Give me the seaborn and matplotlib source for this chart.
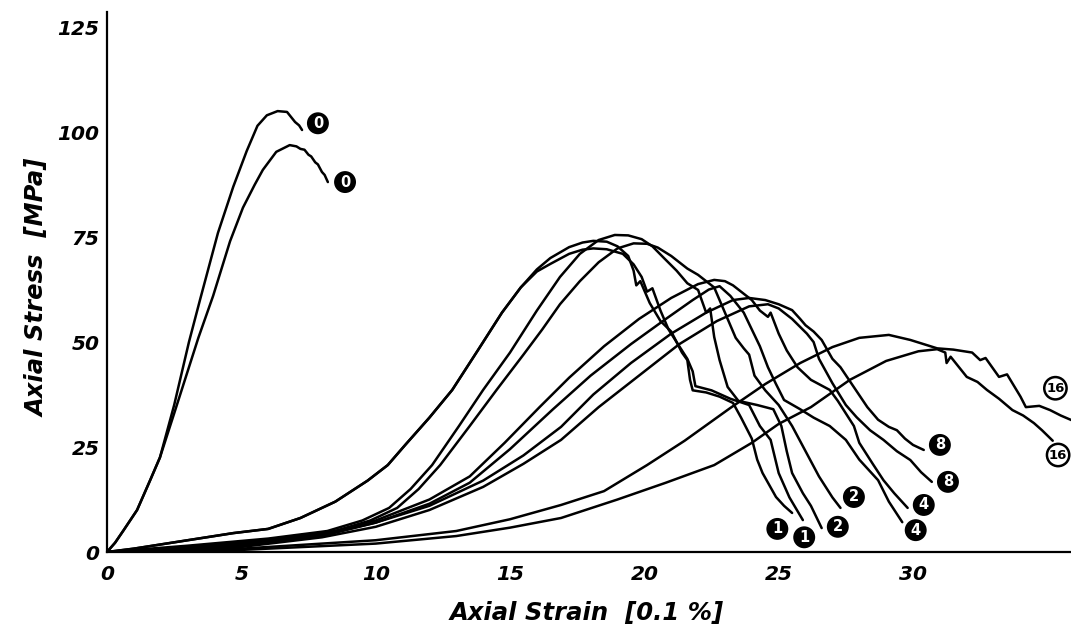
import matplotlib
matplotlib.use("Agg")
import matplotlib.pyplot as plt
import numpy as np
import pandas as pd
import seaborn as sns

# ---------------- data ----------------
C0A_X = [0, 0.3, 0.62, 1.12, 1.6, 1.97, 2.5, 3.05, 3.46, 4.13, 4.7, 5.2, 5.6, 5.95, 6.35, 6.7, 6.85, 7.0, 7.15, 7.26]
C0A_Y = [0, 2.2, 5.2, 10, 17, 22.5, 35, 50, 60, 76, 87, 95.5, 101.5, 104, 105, 104.8, 103.6, 102.4, 101.6, 100.5]

C0B_X = [0, 0.3, 0.62, 1.12, 1.6, 1.97, 2.5, 3.0, 3.4, 3.95, 4.58, 5.06, 5.5, 5.8, 6.3, 6.8, 7.05, 7.2, 7.35, 7.5, 7.6, 7.75, 7.85, 8.0, 8.1, 8.22]
C0B_Y = [0, 2.2, 5.2, 10, 17, 22.5, 33, 43, 51, 61, 74, 82, 87.5, 91, 95.3, 96.9, 96.6, 96.0, 95.8, 94.6, 94.2, 92.8, 92.3, 90.5, 89.8, 88.1]

C1A_X = [0, 1, 2.5, 4.7, 6.0, 7.2, 8.5, 9.7, 10.45, 11.1, 12.0, 12.85, 13.8, 14.7, 15.4, 16.0, 16.5, 17.2, 17.7, 18.1, 18.6, 19.0, 19.4, 19.6, 19.7, 19.85, 20.2, 20.6, 21.0, 21.2, 21.4, 21.6, 21.7, 21.8, 22.3, 22.8, 23.3, 23.6, 24.0, 24.2, 24.4, 24.9, 25.2, 25.5]
C1A_Y = [0, 0.8, 2.3, 4.5, 5.5, 8.1, 12, 17, 20.7, 25.5, 32, 38.6, 48, 57, 63, 67.3, 70, 72.6, 73.7, 74.1, 73.9, 72.8, 70.5, 67, 63.5, 64.5, 59.3, 55, 52.5, 50, 47.5, 45.7, 41, 38.5, 38, 37, 35.5, 32, 27, 22, 18.8, 13.1, 11, 9.3]

C1B_X = [0, 1, 2.5, 4.7, 6.0, 7.2, 8.5, 9.7, 10.45, 11.1, 12.0, 12.85, 13.8, 14.7, 15.4, 16.0, 16.5, 17.2, 17.7, 18.1, 18.6, 19.2, 19.6, 19.9, 20.1, 20.3, 20.6, 20.9, 21.3, 21.6, 21.8, 21.9, 22.5, 23.2, 23.9, 24.3, 24.7, 25.0, 25.4, 25.9]
C1B_Y = [0, 0.8, 2.3, 4.5, 5.5, 8.1, 12, 17, 20.7, 25.5, 32, 38.6, 48, 57, 63, 66.8, 68.6, 71, 72, 72.3, 72.1, 71, 68.5, 65.5, 62, 62.8, 57.5, 53, 49, 46, 43, 39.5, 38.5, 36.5, 35, 30, 26.7, 18.8, 13, 7.6]

C2A_X = [0, 3, 6, 8.2, 9.5, 10.5, 11.3, 12.1, 13.1, 14.0, 15.0, 16.0, 16.86, 17.6, 18.3, 18.9, 19.4, 19.9, 20.3, 20.7, 21.2, 21.6, 22.0, 22.3, 22.45, 22.6, 22.8, 23.1, 23.5, 24.2, 24.8, 25.1, 25.3, 25.5, 25.9, 26.2, 26.6]
C2A_Y = [0, 1.5, 3.2, 5, 7.5, 10.5, 15, 20.7, 30, 38.6, 47.5, 57.5, 65.5, 71, 74.3, 75.5, 75.4, 74.5, 72.8, 70.2, 67, 64, 62.4, 57, 58, 51.2, 45.7, 39.3, 36, 35, 34, 30, 24, 18.8, 14, 11, 5.7]

C2B_X = [0, 3, 6, 8.5, 9.8, 10.8, 11.6, 12.4, 13.5, 14.5, 15.5, 16.2, 16.86, 17.6, 18.3, 19.0, 19.6, 20.1, 20.5, 21.0, 21.3, 21.6, 22.0, 22.3, 22.6, 22.8, 23.0, 23.4, 23.7, 23.9, 24.1, 24.5, 25.0, 25.5, 26.0, 26.5, 27.0, 27.3]
C2B_Y = [0, 1.2, 3.0, 5, 7.5, 10.5, 15, 20.7, 30, 38.6, 47, 53, 59, 64.5, 69, 72.3, 73.5, 73.4, 72.5, 70.5, 69, 67.5, 66, 64.5, 63, 60, 57, 51, 48.5, 47, 42, 38.5, 35, 30, 24, 18, 13, 10.5]

C4A_X = [0, 4, 8, 10, 12, 13.5, 14.8, 16.1, 17.2, 18.5, 19.8, 21.0, 22.0, 22.6, 23.0, 23.3, 23.7, 24.0, 24.3, 24.6, 24.7, 25.0, 25.3, 25.7, 26.2, 26.9, 27.2, 27.4, 27.8, 28.0, 28.5, 28.9, 29.3, 29.8]
C4A_Y = [0, 1.5, 4.2, 7.5, 12.5, 18, 26, 34.5, 41.5, 49, 55.5, 60.5, 63.8, 64.8, 64.5, 63.5, 61.5, 60, 57.5, 56, 57, 52, 48, 44, 41, 38.6, 36, 34, 30, 26, 21, 17.1, 14, 10.5]

C4B_X = [0, 4, 8, 10, 12, 13.5, 15.0, 16.6, 18.0, 19.5, 20.8, 21.8, 22.4, 22.8, 23.2, 23.7, 24.0, 24.3, 24.6, 24.9, 25.2, 25.8, 26.3, 26.9, 27.5, 28.0, 28.7, 29.1, 29.6]
C4B_Y = [0, 1.2, 3.8, 7, 11.5, 16.5, 24.5, 34, 42, 49.5, 55.5, 60, 62.5, 63.3, 61, 57, 53, 49, 44, 40, 36.2, 34, 32, 30, 26.7, 22, 17.1, 12, 7.1]

C8A_X = [0, 5, 8, 10, 12, 14, 15.5, 16.9, 18.1, 19.5, 21.0, 22.3, 23.3, 23.9, 24.5, 25.0, 25.5, 25.8, 26.0, 26.3, 26.6, 27.0, 27.3, 27.7, 28.3, 28.7, 29.1, 29.4, 29.7, 30.0, 30.4]
C8A_Y = [0, 1.5, 4, 7, 11, 17, 23, 29.8, 37.5, 45, 52, 57, 60, 60.5, 60, 59, 57.6, 55.5, 54, 52.5, 50.5, 46, 44, 40.2, 34.5, 31.5, 29.8, 29, 27, 25.5, 24.3]

C8B_X = [0, 5, 8, 10, 12, 14, 15.5, 16.9, 18.3, 19.8, 21.3, 22.7, 23.9, 24.6, 25.0, 25.5, 26.05, 26.3, 26.5, 27.0, 27.5, 27.9, 28.4, 28.9, 29.4, 29.9, 30.3, 30.7]
C8B_Y = [0, 1.2, 3.5, 6, 10, 15.5, 21, 26.7, 34.5, 42, 49.5, 55, 58.5, 59, 58, 55.5, 52, 50, 46, 40.2, 35, 32.1, 29, 26.7, 24, 21.9, 19, 16.7]

C16A_X = [0, 5, 10, 13, 15, 16.9, 18.5, 20.1, 21.5, 23.2, 24.5, 25.8, 27.0, 28.0, 29.1, 29.9, 30.5, 30.9, 31.5, 32.2, 32.5, 32.7, 33.2, 33.5, 34.0, 34.2, 34.7, 35.1, 35.5, 35.9]
C16A_Y = [0, 0.8, 2.8, 5, 7.8, 11.2, 14.5, 20.7, 26.5, 34.3, 40, 45, 48.8, 51, 51.7, 50.5, 49.3, 48.5, 48.2, 47.5, 45.7, 46.2, 41.7, 42.3, 37, 34.5, 34.8, 33.8, 32.5, 31.4]

C16B_X = [0, 5, 10, 13, 15, 16.9, 19.0, 20.8, 22.6, 24.0, 25.0, 26.2, 27.65, 29.0, 30.2, 30.9, 31.2, 31.25, 31.4, 32.0, 32.4, 32.75, 33.2, 33.7, 34.1, 34.5, 34.8, 35.2]
C16B_Y = [0, 0.5, 2, 3.8, 5.8, 8.1, 12.5, 16.5, 20.7, 26, 30.5, 34.5, 41, 45.5, 47.8, 48.3, 47.5, 45, 46.5, 41.7, 40.5, 38.6, 36.5, 33.8, 32.5, 30.7, 29, 26.5]

LABEL_TEXT = ["0", "0", "1", "1", "2", "2", "4", "4", "8", "8", "16", "16"]
LABEL_X = [7.85, 8.86, 24.95, 25.95, 27.8, 27.2, 30.4, 30.1, 31.0, 31.3, 35.3, 35.4]
LABEL_Y = [102.1, 88.1, 5.5, 3.5, 13.1, 6.0, 11.2, 5.2, 25.5, 16.7, 39.0, 23.1]

X_TICKS = [0, 5, 10, 15, 20, 25, 30]
Y_TICKS = [0, 25, 50, 75, 100, 125]
X_LABEL = "Axial Strain  [0.1 %]"
Y_LABEL = "Axial Stress  [MPa]"

curves = {
    "0a": (C0A_X, C0A_Y), "0b": (C0B_X, C0B_Y),
    "1a": (C1A_X, C1A_Y), "1b": (C1B_X, C1B_Y),
    "2a": (C2A_X, C2A_Y), "2b": (C2B_X, C2B_Y),
    "4a": (C4A_X, C4A_Y), "4b": (C4B_X, C4B_Y),
    "8a": (C8A_X, C8A_Y), "8b": (C8B_X, C8B_Y),
    "16a": (C16A_X, C16A_Y), "16b": (C16B_X, C16B_Y),
}
frames = []
for name, (xs, ys) in curves.items():
    frames.append(pd.DataFrame({"strain": xs, "stress": ys, "curve": name,
                                "order": np.arange(len(xs))}))
df = pd.concat(frames, ignore_index=True)

# ---------------- drawing ----------------
sns.set_style("white")
plt.rcParams["font.family"] = ["DejaVu Sans"]
plt.rcParams["text.color"] = "black"
plt.rcParams["axes.labelcolor"] = "black"
plt.rcParams["xtick.color"] = "black"
plt.rcParams["ytick.color"] = "black"

fig = plt.figure(figsize=(10.71, 6.30), dpi=100)
ax = fig.add_axes([107 / 1071, 78 / 630, 964 / 1071, 540 / 630])

sns.lineplot(data=df, x="strain", y="stress", units="curve", estimator=None,
             sort=False, color="black", linewidth=1.8, legend=False, ax=ax)

ax.set_xlim(0, 35.88)
ax.set_ylim(0, 128.6)

for t, x, y in zip(LABEL_TEXT, LABEL_X, LABEL_Y):
    if t == "16":
        ax.text(x, y, t, ha="center", va="center", fontsize=9.5, fontweight="bold",
                color="black", zorder=5,
                bbox=dict(boxstyle="circle,pad=0.15", fc="white", ec="black", lw=1.8))
    else:
        ax.text(x, y, t, ha="center", va="center", fontsize=10.5, fontweight="bold",
                color="white", zorder=5,
                bbox=dict(boxstyle="circle,pad=0.18", fc="black", ec="black", lw=1.2))

ax.set_xticks(X_TICKS)
ax.set_yticks(Y_TICKS)
ax.set_xticklabels([str(v) for v in X_TICKS])
ax.set_yticklabels([str(v) for v in Y_TICKS])
ax.tick_params(axis="both", direction="inout", length=5, width=1.2, colors="black",
               labelsize=14.5, labelcolor="black")
ax.tick_params(axis="x", pad=7)
ax.tick_params(axis="y", pad=3)
for lab in ax.get_xticklabels() + ax.get_yticklabels():
    lab.set_fontweight("bold")
    lab.set_fontstyle("italic")
    lab.set_color("black")

ax.set_xlabel(X_LABEL, fontsize=17.5, fontweight="bold", fontstyle="italic", color="black")
ax.set_ylabel(Y_LABEL, fontsize=17.5, fontweight="bold", fontstyle="italic", color="black")
ax.xaxis.set_label_coords(0.498, -0.113)
ax.xaxis.label.set_va("center")
ax.yaxis.set_label_coords(-0.072, 0.489)
ax.yaxis.label.set_va("center")

for s in ["top", "right"]:
    ax.spines[s].set_visible(False)
for s in ["left", "bottom"]:
    ax.spines[s].set_color("black")
    ax.spines[s].set_linewidth(1.6)

fig.savefig("out.png", dpi=100, facecolor="white")
